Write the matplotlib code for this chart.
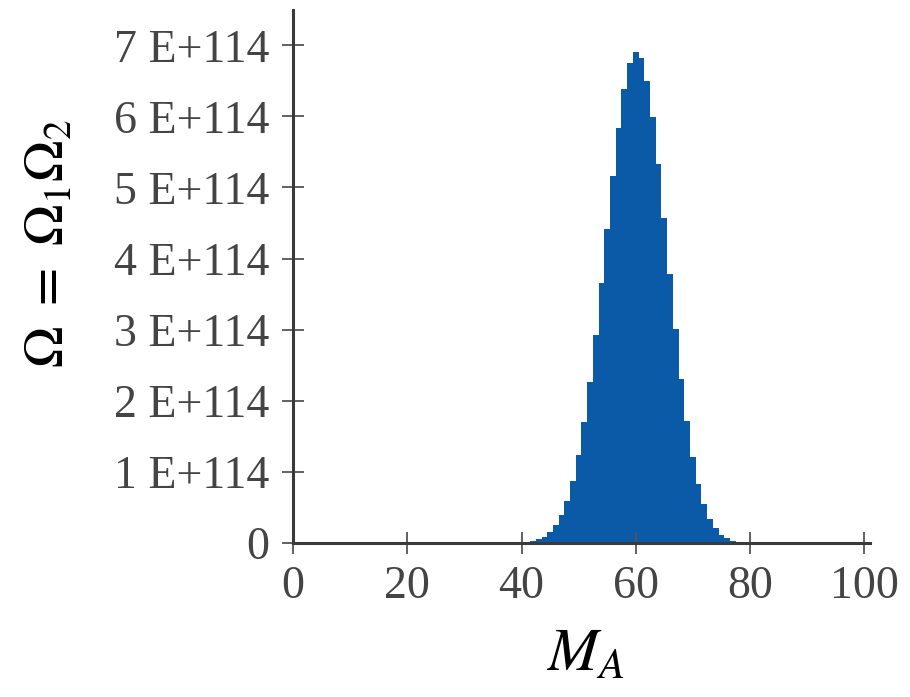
import matplotlib
matplotlib.use("Agg")
import matplotlib.pyplot as plt

plt.rcParams['mathtext.fontset'] = 'stix'
plt.rcParams['font.family'] = ['Liberation Serif', 'DejaVu Serif']

# Energy units in solid A (M_A) and multiplicity Omega (in units of 1E+114)
m_a = [35, 36, 37, 38, 39, 40, 41, 42, 43, 44, 45, 46, 47, 48, 49, 50, 51, 52,
       53, 54, 55, 56, 57, 58, 59, 60, 61, 62, 63, 64, 65, 66, 67, 68, 69, 70,
       71, 72, 73, 74, 75, 76, 77, 78, 79, 80, 81, 82]
omega = [0.0002, 0.0004, 0.0009, 0.0020, 0.0041, 0.0081, 0.0156, 0.0290,
         0.0521, 0.0904, 0.1517, 0.2464, 0.3871, 0.5885, 0.866, 1.233, 1.699,
         2.266, 2.925, 3.653, 4.414, 5.161, 5.836, 6.383, 6.750, 6.90, 6.815,
         6.502, 5.990, 5.327, 4.570, 3.780, 3.013, 2.313, 1.709, 1.214, 0.829,
         0.543, 0.341, 0.206, 0.119, 0.065, 0.034, 0.017, 0.0082, 0.0037,
         0.0016, 0.0006]

xticks = [0, 20, 40, 60, 80, 100]
yticks = [0, 1, 2, 3, 4, 5, 6, 7]
ytick_labels = ['0', '1 E+114', '2 E+114', '3 E+114', '4 E+114', '5 E+114',
                '6 E+114', '7 E+114']

fig = plt.figure(figsize=(9.1, 6.97), dpi=100)
ax = fig.add_axes([0.322, 0.221, 0.634, 0.765])

ax.bar(m_a, omega, width=1.0, color='#0b5aa8', linewidth=0, align='center')

ax.set_xlim(0, 101)
ax.set_ylim(0, 7.5)

ax.set_xticks(xticks)
ax.set_xticklabels([str(t) for t in xticks])
ax.set_yticks(yticks)
ax.set_yticklabels(ytick_labels)

for s in ['top', 'right']:
    ax.spines[s].set_visible(False)
for s in ['left', 'bottom']:
    ax.spines[s].set_color('#3a3a3a')
    ax.spines[s].set_linewidth(2.2)

ax.tick_params(axis='both', direction='inout', length=16, width=1.3,
               color='#555555', labelcolor='#444444', labelsize=33)
ax.tick_params(axis='x', pad=8)
ax.tick_params(axis='y', pad=9)

fig.text(0.055, 0.65, r'$\Omega\ =\ \Omega_1\Omega_2$', rotation=90,
         ha='center', va='center', fontsize=40, color='black')
fig.text(0.643, 0.058, r'$M_A$', ha='center', va='center', fontsize=44,
         color='black')

fig.savefig('out.png', dpi=100)
